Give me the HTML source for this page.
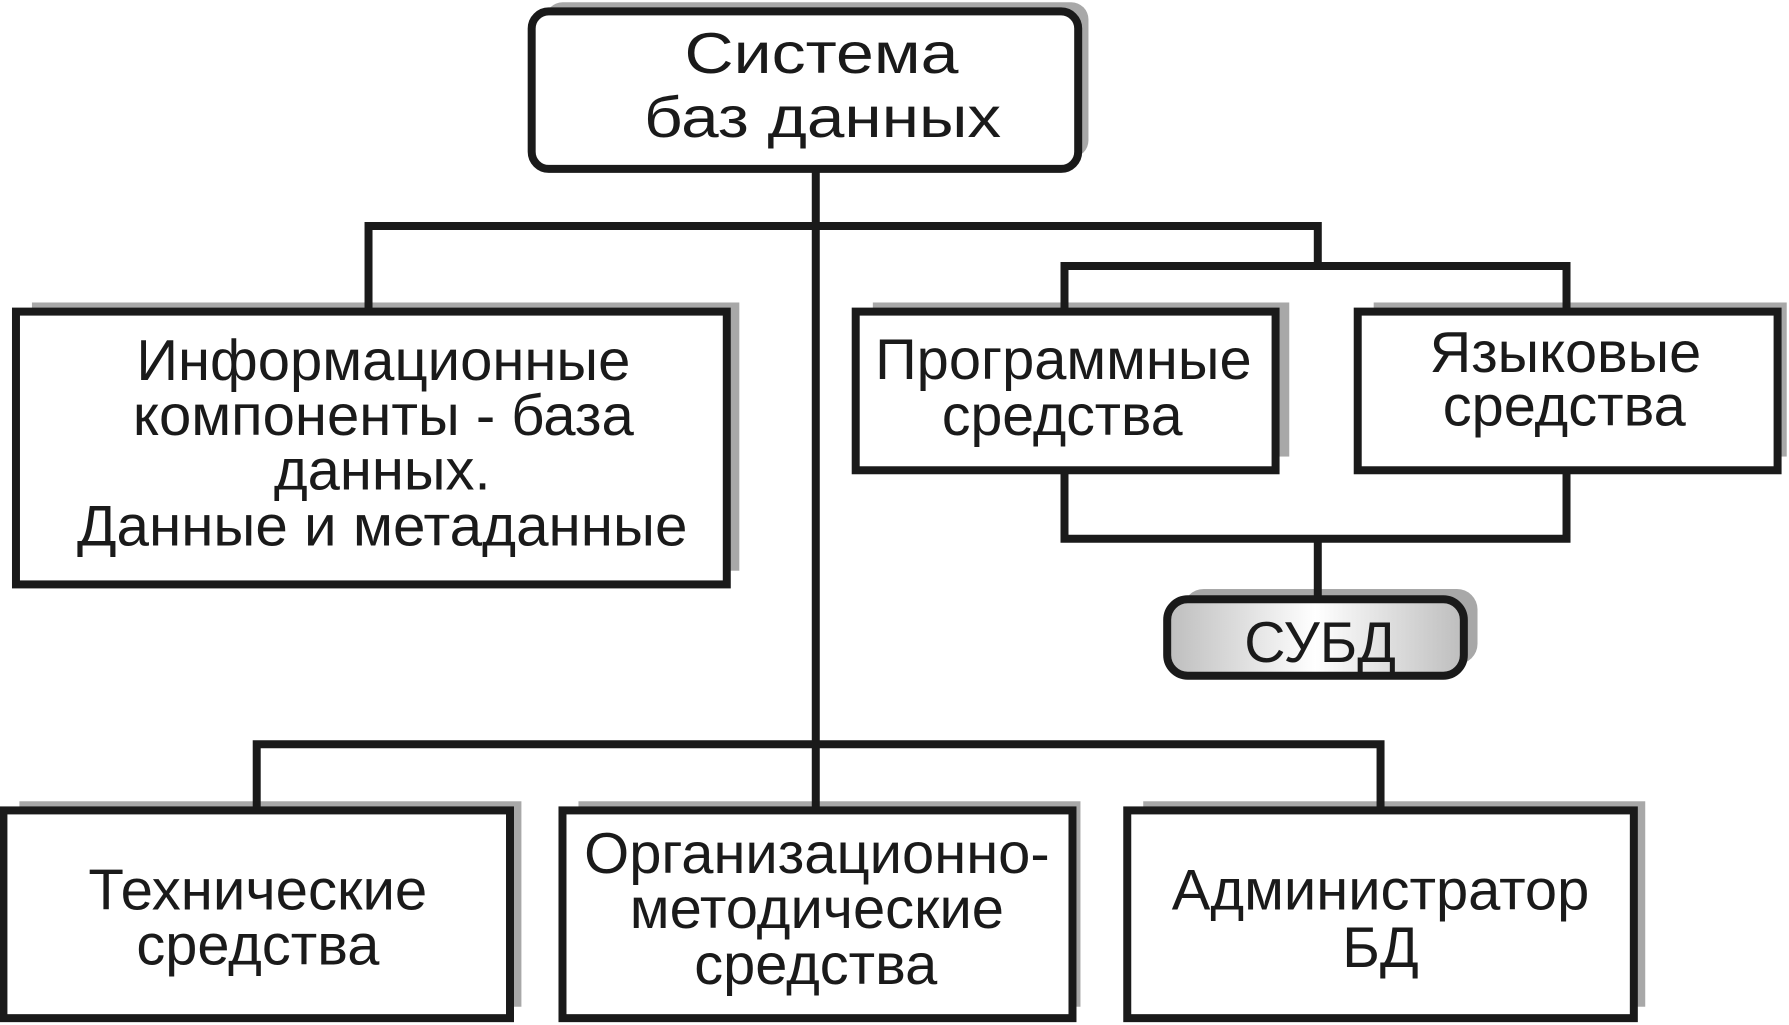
<!DOCTYPE html>
<html><head><meta charset="utf-8"><style>html,body{margin:0;padding:0;background:#fff}svg{display:block}</style></head>
<body>
<svg width="1789" height="1025" viewBox="0 0 1568 898" preserveAspectRatio="none" xmlns="http://www.w3.org/2000/svg">
<defs>
<linearGradient id="g" x1="0" x2="1" y1="0" y2="0">
<stop offset="0" stop-color="#bdbdbd"/><stop offset="0.5" stop-color="#ffffff"/><stop offset="1" stop-color="#bdbdbd"/>
</linearGradient>
</defs>
<g fill="#a8a8a8">
<rect x="478" y="2" width="476" height="136" rx="15"/>
<rect x="28" y="265" width="620" height="235"/>
<rect x="765" y="265" width="365" height="135"/>
<rect x="1204" y="265" width="362" height="135"/>
<rect x="1037" y="516" width="258" height="66" rx="18"/>
<rect x="17" y="702" width="440" height="180"/>
<rect x="507" y="702" width="440" height="180"/>
<rect x="1002" y="702" width="440" height="180"/>
</g>
<g fill="none" stroke="#1a1a1a" stroke-width="7">
<path d="M715 148V710M323 273V198H1155V233M933 273V233H1373V273M933 412V472H1373V412M1155 472V525M225 710V652H1210V710"/>
</g>
<g stroke="#1a1a1a" stroke-width="7" fill="#fff">
<rect x="466" y="10" width="479" height="138" rx="15"/>
<rect x="14" y="273" width="623" height="239"/>
<rect x="750" y="273" width="368" height="139"/>
<rect x="1190" y="273" width="368" height="139"/>
<rect x="1023" y="525" width="260" height="67" rx="18" fill="url(#g)"/>
<rect x="3" y="710" width="444" height="182"/>
<rect x="493" y="710" width="447" height="182"/>
<rect x="988" y="710" width="444" height="182"/>
</g>
<g font-family="Liberation Sans, sans-serif" font-size="50" fill="#1a1a1a" text-anchor="middle">
<text x="720" y="64" textLength="240" lengthAdjust="spacingAndGlyphs">Система</text>
<text x="721" y="120" textLength="313" lengthAdjust="spacingAndGlyphs">баз данных</text>
<text x="336" y="333" textLength="433" lengthAdjust="spacingAndGlyphs">Информационные</text>
<text x="336" y="381" textLength="439" lengthAdjust="spacingAndGlyphs">компоненты - база</text>
<text x="335" y="429" textLength="190" lengthAdjust="spacingAndGlyphs">данных.</text>
<text x="335" y="478" textLength="535" lengthAdjust="spacingAndGlyphs">Данные и метаданные</text>
<text x="932" y="332" textLength="330" lengthAdjust="spacingAndGlyphs">Программные</text>
<text x="931" y="381" textLength="211" lengthAdjust="spacingAndGlyphs">средства</text>
<text x="1372" y="326" textLength="238" lengthAdjust="spacingAndGlyphs">Языковые</text>
<text x="1371" y="373" textLength="213" lengthAdjust="spacingAndGlyphs">средства</text>
<text x="1157" y="580" textLength="133" lengthAdjust="spacingAndGlyphs">СУБД</text>
<text x="226" y="797" textLength="297" lengthAdjust="spacingAndGlyphs">Технические</text>
<text x="226" y="845" textLength="213" lengthAdjust="spacingAndGlyphs">средства</text>
<text x="716" y="765" textLength="408" lengthAdjust="spacingAndGlyphs">Организационно-</text>
<text x="716" y="813" textLength="328" lengthAdjust="spacingAndGlyphs">методические</text>
<text x="715" y="862" textLength="213" lengthAdjust="spacingAndGlyphs">средства</text>
<text x="1210" y="797" textLength="366" lengthAdjust="spacingAndGlyphs">Администратор</text>
<text x="1210" y="847" textLength="67" lengthAdjust="spacingAndGlyphs">БД</text>
</g>
</svg>
</body></html>
